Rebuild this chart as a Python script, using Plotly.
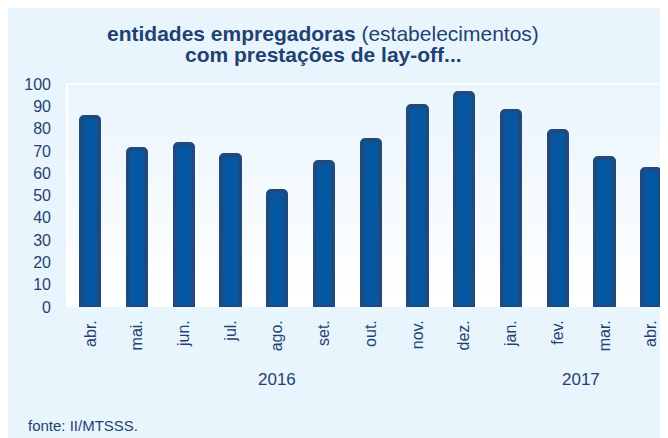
import plotly.graph_objects as go

months = ["abr.", "mai.", "jun.", "jul.", "ago.", "set.", "out.", "nov.", "dez.", "jan.", "fev.", "mar.", "abr."]
values = [85, 71, 73, 68, 52, 65, 75, 90, 96, 88, 79, 67, 62]
years = ["2016", "2017"]
year_centers = [4, 10.5]
yticks = list(range(0, 101, 10))

W, H = 660, 430
ML, MR, MT, MB = 59, 0, 76, 131
pw = W - ML - MR
ph = H - MT - MB

TXT = "#1F4272"
FONT = "Liberation Sans, Arial, sans-serif"
BG = "#E9F5FD"

x = list(range(len(months)))

fig = go.Figure()
fig.add_trace(go.Bar(
    x=x, y=values, width=0.39,
    marker=dict(color="#0657A2", line=dict(color="#1F4A7E", width=4), cornerradius=3),
    hoverinfo="skip",
))

shapes = []
# gradient plot background
n = 40
top = (234, 245, 253)
bot = (255, 255, 255)
for i in range(n):
    t = i / (n - 1)
    c = tuple(int(round(bot[k] + (top[k] - bot[k]) * t)) for k in range(3))
    shapes.append(dict(type="rect", xref="x domain", yref="y domain", layer="below",
                       x0=0, x1=1, y0=i / n, y1=(i + 1) / n + 0.002,
                       fillcolor="rgb(%d,%d,%d)" % c, line=dict(width=0)))
shapes.append(dict(type="line", xref="x domain", yref="y domain", layer="below",
                   x0=0, x1=0, y0=0, y1=1, line=dict(color="white", width=2)))
shapes.append(dict(type="line", xref="x domain", yref="y domain", layer="below",
                   x0=0, x1=1, y0=1, y1=1, line=dict(color="white", width=1.5)))

annotations = []
for yr, xc in zip(years, year_centers):
    annotations.append(dict(x=xc, xref="x", y=0, yref="paper", yshift=-72,
                            text=yr, showarrow=False, yanchor="middle",
                            font=dict(size=17, color=TXT, family=FONT)))
annotations.append(dict(x=0, xref="paper", xshift=-41, y=0, yref="paper", yshift=-118,
                        text="fonte: II/MTSSS.", showarrow=False, xanchor="left", yanchor="middle",
                        font=dict(size=15, color=TXT, family=FONT)))
tx = (315 - ML) / pw
annotations.append(dict(x=tx, xref="paper", y=1, yref="paper", yshift=51,
                        text="<b>entidades empregadoras</b> (estabelecimentos)",
                        showarrow=False, xanchor="center", yanchor="middle",
                        font=dict(size=21, color=TXT, family=FONT)))
annotations.append(dict(x=tx, xref="paper", y=1, yref="paper", yshift=30,
                        text="<b>com prestações de lay-off...</b>",
                        showarrow=False, xanchor="center", yanchor="middle",
                        font=dict(size=21, color=TXT, family=FONT)))

fig.update_layout(
    width=W, height=H,
    margin=dict(l=ML, r=MR, t=MT, b=MB, pad=0),
    paper_bgcolor=BG, plot_bgcolor="rgba(0,0,0,0)",
    showlegend=False,
    shapes=shapes, annotations=annotations,
    font=dict(family=FONT, color=TXT, size=16),
    bargap=0,
)
fig.update_xaxes(
    tickmode="array", tickvals=x, ticktext=months, tickangle=-90,
    range=[-0.5, 12.36], showgrid=False, zeroline=False, showline=False,
    ticks="", tickfont=dict(size=16, color=TXT, family=FONT), ticklabelstandoff=9,
)
fig.update_yaxes(
    range=[0, 100], tickmode="array", tickvals=yticks, showgrid=False, zeroline=False,
    showline=False, ticks="", tickfont=dict(size=16, color=TXT, family=FONT), ticklabelstandoff=15,
)

fig.write_html("out.html")
